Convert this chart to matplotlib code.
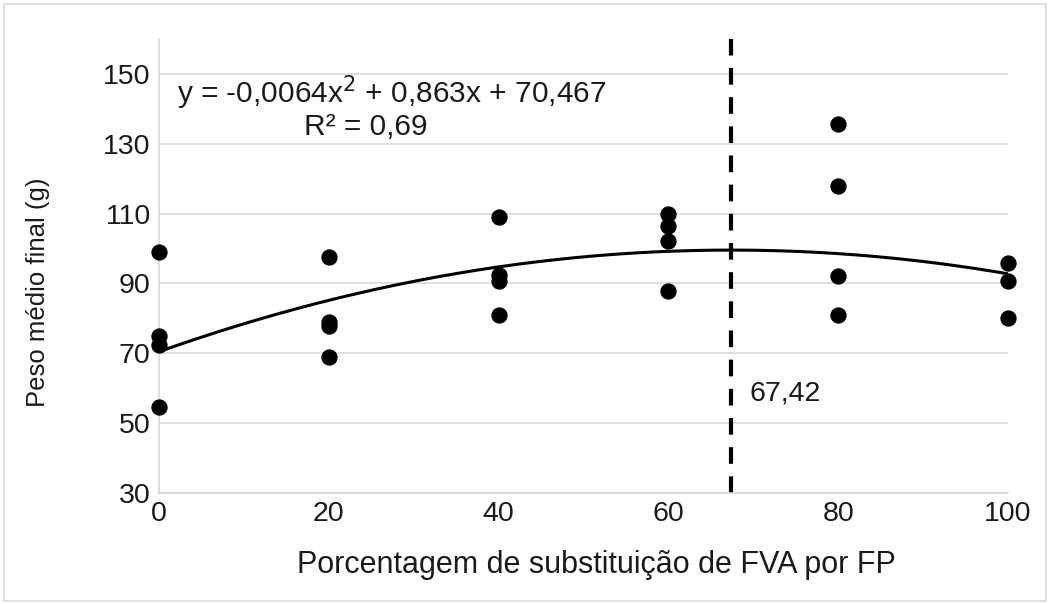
import numpy as np
import matplotlib.pyplot as plt
from matplotlib.patches import Rectangle

plt.rcParams['font.family'] = ['Liberation Sans', 'DejaVu Sans']

# Dados
x_vals = [0, 0, 0, 0, 20, 20, 20, 20, 40, 40, 40, 40, 60, 60, 60, 60, 80, 80, 80, 80, 100, 100, 100]
y_vals = [99, 75, 72.5, 54.5, 97.5, 79, 77.8, 69, 109, 92.5, 90.6, 81, 110, 106.4, 102.2, 87.8,
          135.8, 117.8, 92.2, 81, 96, 90.6, 80]
coef = [-0.0064, 0.863, 70.467]
x_opt = 67.42
y_ticks = [30, 50, 70, 90, 110, 130, 150]
x_ticks = [0, 20, 40, 60, 80, 100]

fig = plt.figure(figsize=(10.51, 6.04), dpi=100)
ax = fig.add_axes([0.1513, 0.1838, 0.8077, 0.7516])

fig.patches.append(Rectangle((0.004, 0.005), 0.991, 0.988, transform=fig.transFigure,
                             fill=False, edgecolor='#d9d9d9', linewidth=1.2))

ax.set_xlim(0, 100)
ax.set_ylim(30, 160)
ax.set_yticks(y_ticks)
ax.set_xticks(x_ticks)
ax.grid(axis='y', color='#d9d9d9', linewidth=1.2)
ax.set_axisbelow(True)
for s in ['top', 'right']:
    ax.spines[s].set_visible(False)
ax.spines['left'].set_color('#d9d9d9')
ax.spines['bottom'].set_color('#d9d9d9')
ax.spines['left'].set_linewidth(1.2)
ax.spines['bottom'].set_linewidth(1.2)
ax.tick_params(length=0, labelsize=20.5, pad=6)
for lab in ax.get_xticklabels() + ax.get_yticklabels():
    lab.set_color('#1a1a1a')

# Linha de tendência polinomial
xf = np.linspace(0, 100, 300)
ax.plot(xf, np.polyval(coef, xf), color='black', linewidth=2.2)

# Pontos
ax.scatter(x_vals, y_vals, s=115, color='black', zorder=3, clip_on=False)

# Ponto ótimo
ax.axvline(x_opt, color='black', linewidth=3, linestyle=(0, (4, 3)))
ax.text(69.6, 58.6, '67,42', fontsize=20.5, va='center', color='#1a1a1a')

ax.text(27.4, 144.6, 'y = -0,0064x$^2$ + 0,863x + 70,467', fontsize=21.5, ha='center', va='center',
        color='#1a1a1a')
ax.text(24.3, 134.9, 'R² = 0,69', fontsize=21.5, ha='center', va='center', color='#1a1a1a')

ax.set_xlabel('Porcentagem de substituição de FVA por FP', fontsize=22, color='#1a1a1a')
ax.set_ylabel('Peso médio final (g)', fontsize=18.5, color='#1a1a1a')
ax.xaxis.set_label_coords(0.515, -0.125)
ax.yaxis.set_label_coords(-0.128, 0.443)

fig.savefig('out.png', dpi=100)
